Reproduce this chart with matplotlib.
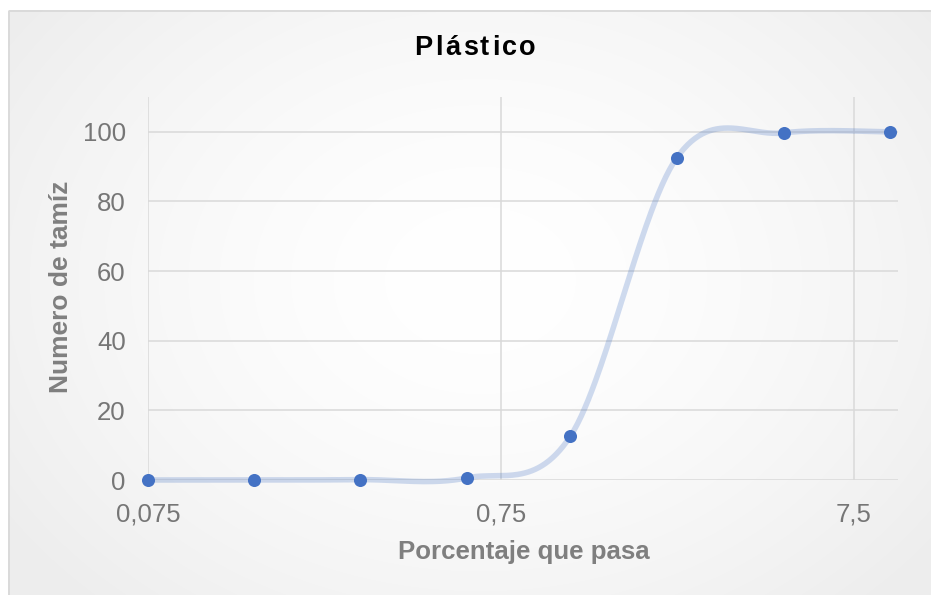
import numpy as np
import matplotlib
matplotlib.use('Agg')
import matplotlib.pyplot as plt
from matplotlib.patches import Rectangle
from matplotlib.ticker import NullLocator

# ---- data ----
sizes = [0.075, 0.15, 0.3, 0.6, 1.18, 2.36, 4.75, 9.5]
passing = [0.0, 0.0, 0.1, 0.6, 12.6, 92.5, 99.7, 100.0]
x_ticks = [0.075, 0.75, 7.5]
x_tick_labels = ['0,075', '0,75', '7,5']
y_ticks = [0, 20, 40, 60, 80, 100]
title = 'Plástico'
xlabel = 'Porcentaje que pasa'
ylabel = 'Numero de tamíz'

plt.rcParams['font.family'] = ['Liberation Sans', 'DejaVu Sans']

W, H = 931, 595
fig = plt.figure(figsize=(W / 100, H / 100), dpi=100)
fig.patch.set_facecolor('white')

# ---- background (radial gradient + border) ----
bg = fig.add_axes([0, 0, 1, 1], zorder=-10)
yy, xx = np.mgrid[0:H, 0:W]
cx, cy = 480, 280
r = np.sqrt(((xx - cx) / (W * 0.62)) ** 2 + ((yy - cy) / (H * 0.75)) ** 2)
val = 1 - 0.07 * np.clip(r, 0, 1) ** 1.6
img = np.dstack([val] * 3)
img[:10, :] = 1
img[:, :8] = 1
bg.imshow(img, extent=[0, W, H, 0], aspect='auto', interpolation='bilinear')
bg.set_xlim(0, W)
bg.set_ylim(H, 0)
bg.axis('off')
bg.add_patch(Rectangle((8.5, 10.5), W, H, fill=False, edgecolor='#d9d9d9', lw=1.3))

# ---- main axes ----
L, R, T, B = 148, 898, 97, 480
ax = fig.add_axes([L / W, 1 - B / H, (R - L) / W, (B - T) / H])
ax.patch.set_alpha(0)
ax.set_xscale('log')
ax.set_xlim(0.075, 10)
ax.set_ylim(0, 110)
ax.set_xticks(x_ticks)
ax.set_xticklabels(x_tick_labels)
ax.xaxis.set_minor_locator(NullLocator())
ax.set_yticks(y_ticks)
for s in ax.spines.values():
    s.set_visible(False)
ax.grid(True, color='#d9d9d9', lw=1.1, zorder=0)
ax.set_axisbelow(True)
ax.tick_params(axis='both', length=0, labelsize=18.5, labelcolor='#767676')
ax.tick_params(axis='y', pad=16)
ax.tick_params(axis='x', pad=16)

# ---- smoothed line (Excel-like Catmull-Rom Bezier in log-x space) ----
lx = np.log10(sizes)
py = np.array(passing)
P = np.column_stack([lx, py])
n = len(P)
curve = []
t = np.linspace(0, 1, 60)
for i in range(n - 1):
    p0 = P[i]
    p3 = P[i + 1]
    pm = P[i - 1] if i > 0 else P[i]
    pp = P[i + 2] if i + 2 < n else P[i + 1]
    c1 = p0 + (p3 - pm) / 6.0
    c2 = p3 - (pp - p0) / 6.0
    seg = ((1 - t) ** 3)[:, None] * p0 + (3 * (1 - t) ** 2 * t)[:, None] * c1 \
        + (3 * (1 - t) * t ** 2)[:, None] * c2 + (t ** 3)[:, None] * p3
    curve.append(seg)
curve = np.vstack(curve)
ax.plot(10 ** curve[:, 0], curve[:, 1], color='#4472C4', alpha=0.25, lw=4.0,
        solid_capstyle='round', clip_on=False, zorder=3)
ax.plot(sizes, passing, 'o', color='#4472C4', markersize=9.4, markeredgewidth=0,
        clip_on=False, zorder=4)

# ---- labels ----
fig.text(524 / W, 1 - 559 / H, xlabel, ha='center', va='baseline', fontsize=18.6,
         fontweight='bold', color='#7f7f7f')
fig.text(61 / W, 1 - 287 / H, ylabel, ha='center', va='center', rotation=90,
         fontsize=19, fontweight='bold', color='#7f7f7f')

# ---- title with slight letter spacing ----
renderer = fig.canvas.get_renderer()
tkw = dict(fontsize=19.5, fontweight='bold', color='black', va='baseline', ha='left')

def text_width(s):
    tt = fig.text(0, 0, s, **tkw)
    w = tt.get_window_extent(renderer).width
    tt.remove()
    return w

spacing = 2.5
full_w = text_width(title)
total = full_w + spacing * (len(title) - 1)
left_px = 475 - total / 2
for i, ch in enumerate(title):
    xpx = left_px + (text_width(title[:i]) if i > 0 else 0) + i * spacing
    fig.text(xpx / W, 1 - 55 / H, ch, **tkw)

fig.savefig('out.png', dpi=100, facecolor=fig.get_facecolor())
